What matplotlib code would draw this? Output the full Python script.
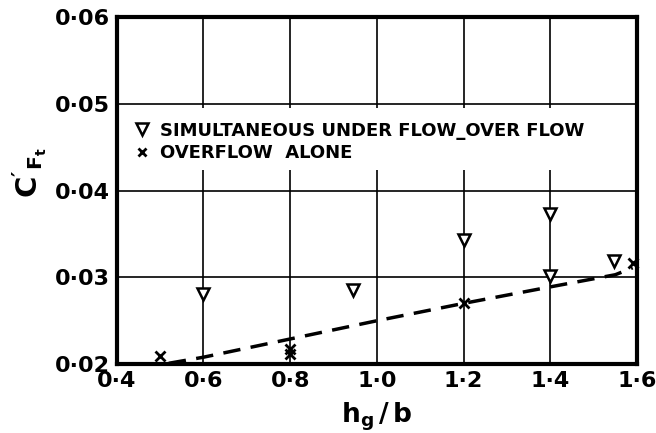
import matplotlib.pyplot as plt
from matplotlib.patches import Rectangle
from matplotlib.lines import Line2D

# simultaneous under flow - over flow (triangles)
tri_x = [0.6, 0.945, 1.2, 1.4, 1.4, 1.547]
tri_y = [0.0281, 0.0285, 0.0343, 0.0373, 0.0301, 0.0319]

# overflow alone (crosses)
crs_x = [0.5, 0.8, 0.8, 1.2, 1.59]
crs_y = [0.0209, 0.0212, 0.0217, 0.0271, 0.0316]

# dashed fit curve
fit_x = [0.52, 0.6, 0.8, 1.0, 1.2, 1.4, 1.55, 1.59]
fit_y = [0.0201, 0.0208, 0.0229, 0.0250, 0.0270, 0.0289, 0.0303, 0.0311]

xticks = [0.4, 0.6, 0.8, 1.0, 1.2, 1.4, 1.6]
yticks = [0.02, 0.03, 0.04, 0.05, 0.06]
xlabels = ["0·4", "0·6", "0·8", "1·0", "1·2", "1·4", "1·6"]
ylabels = ["0·02", "0·03", "0·04", "0·05", "0·06"]

plt.rcParams['font.family'] = ['DejaVu Sans']
plt.rcParams['mathtext.default'] = 'regular'

fig = plt.figure(figsize=(6.56, 4.33), dpi=100)
ax = fig.add_axes([0.178, 0.159, 0.793, 0.802])

ax.set_xlim(0.4, 1.6)
ax.set_ylim(0.02, 0.06)
ax.set_xticks(xticks)
ax.set_xticklabels(xlabels, fontsize=16, fontweight="bold")
ax.set_yticks(yticks)
ax.set_yticklabels(ylabels, fontsize=16, fontweight="bold")
ax.tick_params(length=0, pad=5)
ax.grid(True, color="black", lw=1.2)
ax.set_axisbelow(True)
for s in ax.spines.values():
    s.set_linewidth(3)

# white area behind the legend
ax.add_patch(Rectangle((0, 0.56), 1, 0.178, transform=ax.transAxes,
                       facecolor="white", edgecolor="none", zorder=1))

ax.plot(fit_x, fit_y, color="black", lw=2.5, dashes=(5, 3), zorder=3)
ax.plot(tri_x, tri_y, ls="none", marker="v", ms=9, mfc="white",
        mec="black", mew=1.8, zorder=4)
ax.plot(crs_x, crs_y, ls="none", marker="x", ms=7, color="black",
        mew=2, zorder=4, clip_on=False)

handles = [
    Line2D([], [], ls="none", marker="v", ms=8, mfc="white", mec="black", mew=1.8),
    Line2D([], [], ls="none", marker="x", ms=6, color="black", mew=2),
]
ax.legend(handles, ["SIMULTANEOUS UNDER FLOW_OVER FLOW", "OVERFLOW  ALONE"],
          loc="upper left", bbox_to_anchor=(0.0, 0.745), frameon=False,
          prop={"size": 13, "weight": "bold"}, handlelength=1.0,
          handletextpad=0.5, labelspacing=0.25)

ax.set_xlabel(r"$h_g\,/\,b$", fontsize=19, fontweight="bold")
ax.xaxis.set_label_coords(0.5, -0.105)
ax.set_ylabel(r"$C'_{F_t}$", fontsize=21, fontweight="bold")
ax.yaxis.set_label_coords(-0.13, 0.55)

fig.savefig("out.png", dpi=100)
